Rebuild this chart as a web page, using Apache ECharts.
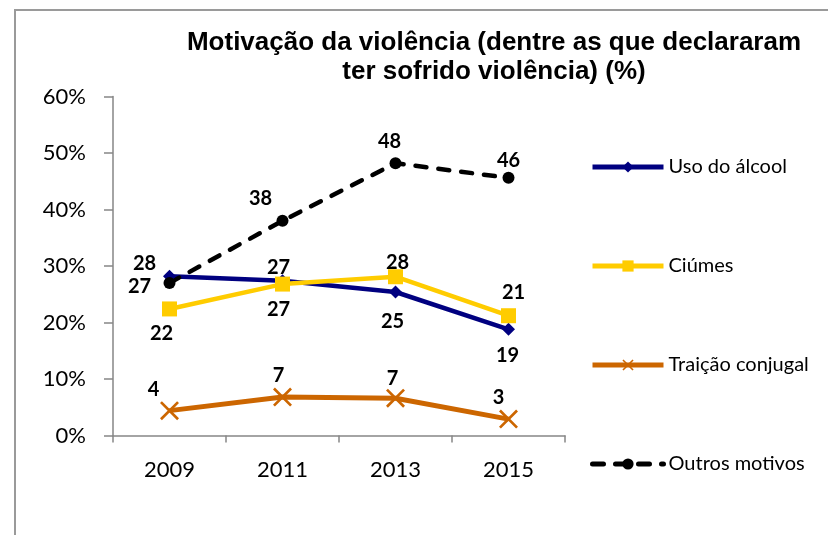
<!DOCTYPE html>
<html>
<head>
<meta charset="utf-8">
<script src="https://cdn.jsdelivr.net/npm/echarts@6/dist/echarts.min.js"></script>
<style>
  html, body { margin: 0; padding: 0; background: #fff; }
  #chart { width: 828px; height: 535px; }
</style>
</head>
<body>
<div id="chart"></div>
<script>
// anos do levantamento
const categories = ['2009', '2011', '2013', '2015']
const yTicks = [0, 10, 20, 30, 40, 50, 60]  // %

// valores (%)
const usoAlcool = [28.2, 27.4, 25.4, 18.8]
const ciumes = [22.4, 26.8, 28.1, 21.2]
const traicao = [4.4, 6.8, 6.6, 2.9]
const outros = [27.0, 38.0, 48.2, 45.6]

// deslocamento dos rótulos em relação ao marcador [dx, dy]
const offUso = [[-25, -13], [-4, -13], [-3, 30], [-1, 26]]
const offCiumes = [[-8, 25], [-4, 25], [2, -14], [5, -23]]
const offTraicao = [[-16, -21], [-4, -22], [-3, -20], [-10, -22]]
const offOutros = [[-30, 4], [-22, -22], [-6, -22], [0, -17]]

const xSymbol = 'path://M0,1L1,0L10,9L9,10Z M9,0L10,1L1,10L0,9Z'

function withLabels(values, offsets) {
  return values.map((v, i) => ({
    value: v,
    label: { offset: offsets[i] }
  }))
}

const chart = echarts.init(document.getElementById('chart'))

const labelBase = {
  show: true,
  position: 'inside',
  fontFamily: 'Lato',
  fontWeight: 'bold',
  fontSize: 20,
  color: '#000',
  formatter: p => Math.round(p.value)
}

chart.setOption({
  animation: false,
  backgroundColor: '#fff',
  title: {
    text: 'Motivação da violência (dentre as que declararam\nter sofrido violência) (%)',
    left: 494,
    top: 28,
    padding: 0,
    textAlign: 'center',
    textStyle: {
      fontFamily: 'Liberation Sans',
      fontWeight: 'bold',
      fontSize: 26,
      lineHeight: 29,
      color: '#000'
    }
  },
  graphic: [{
    type: 'rect',
    shape: { x: 15, y: 10, width: 900, height: 600 },
    style: { fill: 'none', stroke: '#9a9a9a', lineWidth: 2 },
    silent: true
  }],
  legend: {
    orient: 'vertical',
    left: 590,
    top: 157,
    padding: 0,
    itemWidth: 71,
    itemHeight: 14,
    itemGap: 79,
    lineStyle: { width: 5 },
    textStyle: { fontFamily: 'Lato', fontSize: 20, color: '#000', lineHeight: 20 }
  },
  grid: { left: 113, right: 263, top: 96.5, bottom: 99.5 },
  xAxis: {
    type: 'category',
    data: categories,
    boundaryGap: true,
    axisLine: { lineStyle: { color: '#868686', width: 1.5 } },
    axisTick: { show: true, length: 7, interval: 0, lineStyle: { color: '#868686', width: 1.5 } },
    axisLabel: { fontFamily: 'Lato', fontSize: 22, color: '#000', margin: 23 }
  },
  yAxis: {
    type: 'value',
    min: yTicks[0],
    max: yTicks[yTicks.length - 1],
    interval: 10,
    splitLine: { show: false },
    axisLine: { show: true, lineStyle: { color: '#868686', width: 1.5 } },
    axisTick: { show: true, length: 9, lineStyle: { color: '#868686', width: 1.5 } },
    axisLabel: { fontFamily: 'Lato', fontSize: 22, color: '#000', margin: 27, formatter: '{value}%' }
  },
  series: [
    {
      name: 'Uso do álcool',
      type: 'line',
      data: withLabels(usoAlcool, offUso),
      symbol: 'diamond',
      symbolSize: 13,
      color: '#000080',
      lineStyle: { width: 4.5 },
      label: labelBase
    },
    {
      name: 'Ciúmes',
      type: 'line',
      data: withLabels(ciumes, offCiumes),
      symbol: 'rect',
      symbolSize: 15,
      color: '#FFCC00',
      lineStyle: { width: 4.5 },
      label: labelBase
    },
    {
      name: 'Traição conjugal',
      type: 'line',
      data: withLabels(traicao, offTraicao),
      symbol: xSymbol,
      symbolSize: 19,
      color: '#CC6600',
      lineStyle: { width: 5 },
      label: labelBase
    },
    {
      name: 'Outros motivos',
      type: 'line',
      data: withLabels(outros, offOutros),
      symbol: 'circle',
      symbolSize: 12,
      color: '#000',
      lineStyle: { width: 4.5, type: [11, 12], cap: 'round' },
      label: labelBase
    }
  ]
})

window.addEventListener('resize', () => {
  chart.resize()
})
</script>
</body>
</html>
